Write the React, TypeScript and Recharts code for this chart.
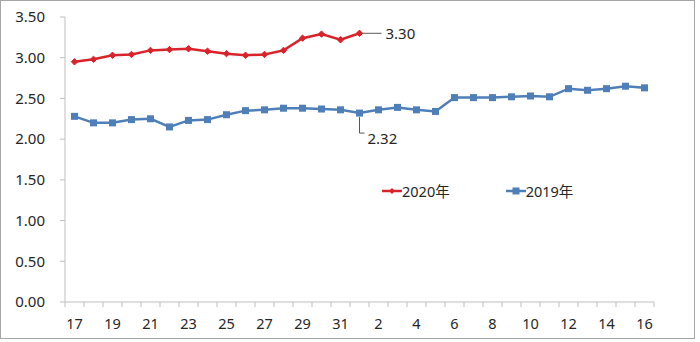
import React from 'react';
import { LineChart, Line, XAxis, YAxis, Legend } from 'recharts';

const days = ['17','18','19','20','21','22','23','24','25','26','27','28','29','30','31','1','2','3','4','5','6','7','8','9','10','11','12','13','14','15','16'];
const y2020 = [2.95,2.98,3.03,3.04,3.09,3.10,3.11,3.08,3.05,3.03,3.04,3.09,3.24,3.29,3.22,3.30];
const y2019 = [2.28,2.20,2.20,2.24,2.25,2.15,2.23,2.24,2.30,2.35,2.36,2.38,2.38,2.37,2.36,2.32,2.36,2.39,2.36,2.34,2.51,2.51,2.51,2.52,2.53,2.52,2.62,2.60,2.62,2.65,2.63];
const yTicks = [0, 0.5, 1, 1.5, 2, 2.5, 3, 3.5];
const seriesNames = ['2020年', '2019年'];
const labelIndex = 15;

const data = days.map((d, i) => ({ day: d, a: y2020[i], b: y2019[i] }));

const RED = '#d9232a';
const BLUE = '#4f7fb8';
const AXIS = '#bfbfbf';
const TEXT = '#262626';
const FONT = "'Noto Sans', 'Noto Sans CJK SC', sans-serif";
const HALF = 9.5;

const XTick = (props: any) => {
  const { x, y, payload, index, visibleTicksCount } = props;
  const last = index === (visibleTicksCount ?? days.length) - 1;
  return (
    <g>
      <line x1={x - HALF} x2={x - HALF} y1={y} y2={y + 5} stroke={AXIS} />
      {last && <line x1={x + HALF} x2={x + HALF} y1={y} y2={y + 5} stroke={AXIS} />}
      {index % 2 === 0 && (
        <text x={x} y={y + 21} textAnchor="middle" dominantBaseline="central" fill={TEXT} fontSize={14.5} fontFamily={FONT}>
          {payload.value}
        </text>
      )}
    </g>
  );
};

const Diamond = (p: any) => {
  if (p.cx == null || p.cy == null || p.value == null) return <g key={`r-${p.index}`} />;
  const s = 3.2;
  return <path key={`r-${p.index}`} d={`M${p.cx},${p.cy - s}L${p.cx + s},${p.cy}L${p.cx},${p.cy + s}L${p.cx - s},${p.cy}Z`} fill={RED} stroke={RED} strokeWidth={1} />;
};

const Square = (p: any) => {
  if (p.cx == null || p.cy == null) return <g key={`b-${p.index}`} />;
  const s = 3.5;
  return <rect key={`b-${p.index}`} x={p.cx - s} y={p.cy - s} width={2 * s} height={2 * s} fill={BLUE} />;
};

const Label2020 = (p: any) => {
  if (p.index !== labelIndex) return <g />;
  const { x, y, value } = p;
  return (
    <g>
      <line x1={x + 3} x2={x + 22} y1={y} y2={y} stroke="#595959" strokeWidth={1} />
      <text x={x + 26} y={y} dominantBaseline="central" fill={TEXT} fontSize={15} fontFamily={FONT}>
        {Number(value).toFixed(2)}
      </text>
    </g>
  );
};

const Label2019 = (p: any) => {
  if (p.index !== labelIndex) return <g />;
  const { x, y, value } = p;
  return (
    <g>
      <polyline points={`${x},${y + 4} ${x},${y + 20} ${x + 5},${y + 20}`} fill="none" stroke="#595959" strokeWidth={1} />
      <text x={x + 8} y={y + 25} dominantBaseline="central" fill={TEXT} fontSize={15} fontFamily={FONT}>
        {Number(value).toFixed(2)}
      </text>
    </g>
  );
};

const LegendContent = (props: any) => {
  const items = [...(props.payload || [])].sort(
    (a: any, b: any) => seriesNames.indexOf(a.value) - seriesNames.indexOf(b.value)
  );
  return (
    <div style={{ display: 'flex', alignItems: 'center', fontFamily: FONT, fontSize: 14.5, color: TEXT }}>
      {items.map((item: any) => (
        <div key={item.value} style={{ display: 'flex', alignItems: 'center', marginRight: 56 }}>
          <svg width={20} height={10} style={{ display: 'block' }}>
            <line x1={0} x2={20} y1={5} y2={5} stroke={item.color} strokeWidth={2.5} />
            {item.value === seriesNames[0] ? (
              <path d="M10,2L13,5L10,8L7,5Z" fill={item.color} />
            ) : (
              <rect x={6.5} y={1.5} width={7} height={7} fill={item.color} />
            )}
          </svg>
          <span style={{ lineHeight: '18px' }}>{item.value}</span>
        </div>
      ))}
    </div>
  );
};

export default function App() {
  return (
    <div style={{ position: 'absolute', left: 0, top: 0, width: 700, height: 342, background: '#fff' }}>
      <LineChart width={700} height={342} data={data} margin={{ top: 17, right: 46, bottom: 0, left: 0 }}>
        <XAxis
          dataKey="day"
          interval={0}
          padding={{ left: HALF, right: HALF }}
          axisLine={{ stroke: AXIS }}
          tickLine={false}
          tickSize={0}
          tickMargin={0}
          height={40}
          tick={<XTick />}
        />
        <YAxis
          domain={[0, 3.5]}
          ticks={yTicks}
          interval={0}
          width={65}
          axisLine={{ stroke: AXIS }}
          tickLine={{ stroke: AXIS }}
          tickSize={5}
          tickMargin={15}
          tickFormatter={(v: number) => v.toFixed(2)}
          tick={{ fill: TEXT, fontSize: 15, fontFamily: FONT }}
        />
        <Legend
          layout="horizontal"
          verticalAlign="middle"
          align="center"
          content={<LegendContent />}
          wrapperStyle={{ left: 382, top: 182, width: 260 }}
        />
        <Line
          dataKey="a"
          name={seriesNames[0]}
          stroke={RED}
          strokeWidth={2.5}
          dot={Diamond}
          activeDot={false}
          isAnimationActive={false}
          label={Label2020}
        />
        <Line
          dataKey="b"
          name={seriesNames[1]}
          stroke={BLUE}
          strokeWidth={2.5}
          dot={Square}
          activeDot={false}
          isAnimationActive={false}
          label={Label2019}
        />
      </LineChart>
      <div style={{ position: 'absolute', left: 0, top: 0, width: 693, height: 337, border: '1.5px solid #a6a6a6', pointerEvents: 'none' }} />
    </div>
  );
}
